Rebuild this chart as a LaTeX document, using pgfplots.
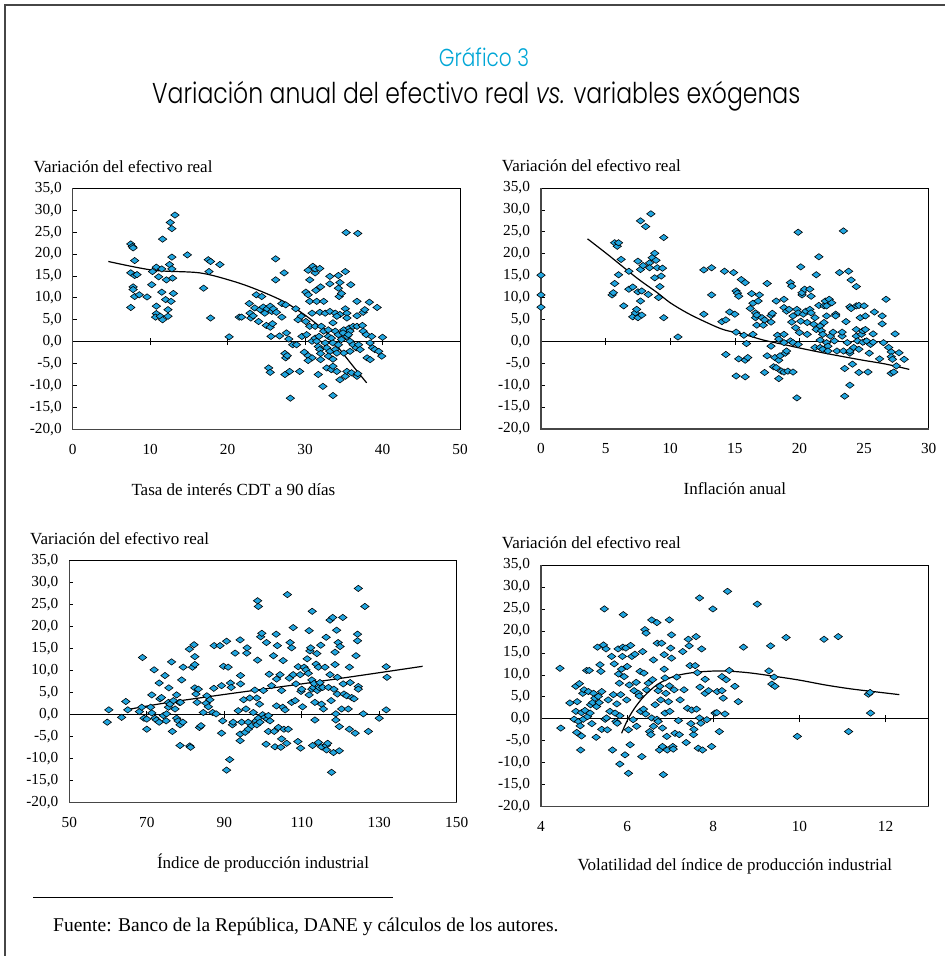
\documentclass[border=0pt]{standalone}
\usepackage{pgfplots}
\pgfplotsset{compat=1.18}
\usepackage{fontspec}
\setmainfont{Liberation Serif}
\newfontfamily\titlefont{Poppins Light}[FakeStretch=0.82]

\definecolor{mk}{RGB}{33,166,224}
\definecolor{ttl}{RGB}{0,166,214}
\definecolor{frm}{RGB}{70,70,70}

\newcommand\tickfont{\fontsize{15.3}{18}\selectfont}
\newcommand\lblfont{\fontsize{17}{20}\selectfont}

\pgfplotsset{
  panel/.style={
    scale only axis,
    clip=false,
    ymin=-20, ymax=35,
    ytick={-20,-15,...,35},
    yticklabels={{-20,0},{-15,0},{-10,0},{-5,0},{0,0},{5,0},{10,0},{15,0},{20,0},{25,0},{30,0},{35,0}},
    ytick pos=left,
    tick align=inside,
    major tick length=4pt,
    ytick style={black, line width=0.7pt},
    xtick style={draw=none},
    axis line style={black, line width=0.8pt},
    ticklabel style={font=\tickfont},
    yticklabel style={xshift=-7.5pt},
    xticklabel style={yshift=-11pt},
    xlabel style={font=\lblfont, at={(axis description cs:0.5,0)}, anchor=center, yshift=-60pt},
  },
  pts/.style={only marks, mark=diamond*, mark size=4.2pt,
    mark options={rotate=90, fill=mk, draw=black, line width=0.6pt}},
  fit/.style={black, line width=1.2pt, smooth, no marks},
}

% zero line with small crossing ticks
\newcommand\zeroline[1]{%
  \draw[black, line width=0.9pt] ({rel axis cs:0,0} |- {axis cs:0,0}) -- ({rel axis cs:1,0} |- {axis cs:0,0});
  \pgfplotsinvokeforeach{#1}{\draw[black, line width=0.7pt] ([yshift=-3.5pt]axis cs:##1,0) -- ([yshift=3.5pt]axis cs:##1,0);}
}
\newcommand\ylab{\node[anchor=west, font=\lblfont, inner sep=0pt] at ([xshift=-39.3pt, yshift=22pt]rel axis cs:0,1) {Variación del efectivo real};}
\newcommand\lowframe{\draw[frm, line width=1.4pt] (rel axis cs:0,1) -- (rel axis cs:0,0) -- (rel axis cs:1,0);}

\begin{document}
\begin{tikzpicture}[x=1pt, y=1pt]
\useasboundingbox (0,0) rectangle (945,956);
% page frame
\draw[frm, line width=1.3pt] (5,0) -- (5,951) -- (945,951);

% headings
\node[anchor=base, text=ttl, font=\titlefont\fontsize{24.5}{28}\selectfont, inner sep=0pt] at (484,889) {Gráfico 3};
\node[anchor=base west, font=\titlefont\fontsize{28.7}{32}\selectfont, inner sep=0pt] at (152,852)
  {Variación anual del efectivo real {\itshape vs.} variables exógenas};

% ---------------- interest rate ----------------
\begin{axis}[panel, at={(72.7pt,526.7pt)}, anchor=south west, width=387.3pt, height=241pt,
  xmin=0, xmax=50, xtick={0,10,...,50}, xticklabels={0,10,20,30,40,50},
  xlabel={Tasa de interés CDT a 90 días}, xlabel style={xshift=-33pt}]
\zeroline{10,20,30,40}
\addplot[pts] table {
7.5 22.3
7.7 21.7
7.8 21.4
8.0 18.5
7.5 15.7
8.0 15.1
8.3 15.3
7.8 12.5
7.8 11.9
8.0 10.3
8.6 10.7
7.5 7.8
9.6 10.2
10.2 13.0
10.3 16.0
10.8 17.0
11.1 14.8
10.8 8.1
10.8 6.4
10.7 5.6
11.3 5.8
11.6 5.0
11.5 11.3
11.6 23.4
12.0 9.6
12.3 7.3
12.3 5.8
12.1 14.1
12.5 17.6
12.6 27.2
12.8 25.8
12.8 19.3
12.8 16.6
12.9 14.5
12.7 9.2
13.0 11.0
13.2 28.9
11.5 16.6
14.8 19.8
16.9 12.2
17.5 18.7
17.8 18.3
17.6 16.0
17.8 5.4
19.0 17.6
20.2 1.1
21.5 5.6
21.8 5.6
22.8 8.7
22.9 6.5
23.0 5.4
23.3 5.9
23.7 10.7
24.4 10.3
24.0 4.6
23.5 7.7
24.2 7.3
24.6 7.9
24.8 6.5
25.1 7.5
25.5 8.1
25.7 6.9
25.9 7.5
25.0 3.7
25.5 3.3
25.8 4.1
25.6 1.2
25.3 -6.0
25.5 -7.0
26.2 18.9
26.2 14.1
26.3 6.7
27.0 5.6
26.7 1.3
27.0 8.7
27.3 15.7
27.5 8.4
27.6 2.0
27.9 0.6
27.4 -2.7
27.5 -3.7
27.7 -3.2
27.4 -7.5
28.0 -6.8
28.1 -12.9
28.4 -0.7
28.9 -0.7
28.8 7.5
29.3 -6.8
29.1 5.0
29.5 5.8
29.6 1.2
30.1 11.3
30.4 10.7
30.4 16.3
30.6 14.1
31.0 17.2
31.3 15.7
31.3 16.6
31.9 16.7
32.0 12.5
31.4 11.7
30.6 9.2
31.5 9.2
32.4 9.2
30.9 6.5
31.9 6.7
32.6 6.5
30.1 4.6
30.6 3.5
31.3 3.5
32.1 3.5
30.2 1.6
30.9 0.1
29.9 -2.4
30.4 -3.2
30.9 -3.7
30.4 -4.3
31.7 -1.1
31.9 -1.8
32.0 -2.7
32.0 -4.1
31.7 -7.5
32.3 -10.2
33.2 14.9
33.2 13.2
34.3 15.1
35.2 16.0
34.5 13.5
34.3 12.2
34.4 10.3
34.7 11.0
35.9 13.0
35.3 24.9
36.8 24.7
33.2 6.9
33.9 6.5
34.5 6.2
35.2 7.5
35.4 6.5
35.4 5.4
33.6 4.3
34.1 5.8
35.0 2.7
35.7 3.1
35.8 2.4
36.2 3.5
36.7 9.2
36.7 5.9
36.7 3.5
37.5 6.7
37.7 7.3
38.3 9.0
39.3 7.8
37.4 3.7
37.5 2.4
37.9 1.6
38.6 1.2
40.0 1.0
38.4 -0.3
38.7 -1.4
39.0 -1.8
39.5 -2.2
39.9 -3.3
38.0 -3.7
38.4 -4.1
33.0 1.2
33.4 0.8
33.6 -0.3
32.6 -0.3
32.8 -1.4
33.2 -2.2
33.9 -1.8
34.3 -0.7
34.7 0.5
35.4 1.2
35.8 0.1
36.2 -0.7
36.6 -1.4
36.9 -0.7
37.1 -1.8
35.8 -2.2
35.0 -2.6
34.1 -2.6
33.0 -3.3
33.6 -4.0
32.8 -6.0
33.4 -6.4
33.6 -5.6
34.1 -6.8
34.5 -8.7
35.2 -7.9
35.4 -6.8
36.0 -7.1
36.7 -7.9
36.8 -7.3
33.6 -12.3
31.3 0.8
31.5 0.1
31.8 1.2
32.4 2.4
33.0 2.7
33.9 2.4
34.3 1.6
34.9 2.0
35.6 1.6
};
\addplot[fit] coordinates {(4.6,18.3) (10.4,16.3) (16.4,15.7) (20.7,13.8) (23.75,11.9) (27.2,9.2) (30.2,5.8) (32.8,2.0) (34.5,-1.8) (36.2,-5.6) (37.95,-9.4)};
\lowframe
\ylab
\end{axis}

% ---------------- inflation ----------------
\begin{axis}[panel, at={(541pt,527pt)}, anchor=south west, width=387.7pt, height=241pt,
  xmin=0, xmax=30, xtick={0,5,...,30}, xticklabels={0,5,10,15,20,25,30},
  xlabel={Inflación anual}]
\zeroline{5,10,15,20,25}
\addplot[pts] table {
0 15.1
0 10.6
0 7.8
5.5 10.6
5.6 11.1
5.7 22.5
5.9 21.7
6.0 22.5
5.7 13.2
6.0 15.2
6.2 18.7
6.4 8.1
6.8 11.9
7.1 12.4
6.8 16.0
7.1 5.6
7.3 6.5
7.5 5.4
7.8 6.0
7.4 7.3
7.7 9.2
7.5 11.3
7.8 11.5
7.5 18.3
7.7 16.4
7.7 27.5
8.1 26.2
7.9 17.3
8.3 10.7
8.4 17.9
8.5 29.1
8.4 16.8
8.6 19.1
8.8 20.1
8.9 18.5
9.0 16.8
8.8 14.5
9.2 12.5
9.3 14.9
9.4 16.7
9.1 10.0
9.5 5.4
9.5 23.7
10.6 1.0
12.6 6.2
12.6 16.3
13.2 16.8
13.2 10.6
14.2 16.0
14.3 -3.0
14.0 4.5
14.3 4.9
14.6 6.7
15.0 6.2
14.9 15.7
15.1 11.5
15.2 11.0
15.3 10.3
15.1 2.1
15.1 -7.9
15.3 -4.0
15.5 14.1
15.8 13.4
15.7 1.4
15.8 -8.1
15.9 -0.5
15.8 -4.3
16.0 -3.7
16.2 7.5
16.3 10.9
16.4 8.7
16.4 1.6
16.6 5.4
16.6 6.5
16.7 6.0
16.7 3.7
16.8 9.2
16.9 10.6
17.1 5.4
17.2 3.7
17.3 4.9
17.3 -7.1
17.5 -3.3
17.5 13.2
17.8 5.9
17.9 6.4
17.8 4.4
17.8 -1.1
18.0 -5.8
18.1 -3.7
18.2 -6.0
18.3 1.4
18.4 -8.5
18.4 -4.3
18.5 -3.3
18.2 9.2
18.4 0.5
18.8 9.6
18.8 7.7
18.8 1.6
18.8 -0.3
18.9 -2.7
19.0 -2.2
18.6 -6.8
18.8 -7.0
19.1 -6.8
19.3 13.4
19.4 12.6
19.0 6.9
19.2 7.3
19.4 4.4
19.5 5.8
19.3 0.1
19.5 -0.3
19.5 -7.0
19.7 3.1
19.8 7.3
19.9 6.5
19.9 24.9
19.8 -12.9
19.9 -0.7
20.0 2.0
20.1 4.6
20.1 17.0
20.2 10.6
20.2 11.1
20.3 6.2
20.4 11.9
20.5 6.9
20.6 4.3
20.6 1.6
20.8 11.9
20.9 10.3
20.8 7.3
20.9 6.5
21.1 3.9
21.2 5.4
21.3 15.2
21.2 -1.4
21.3 2.7
21.5 8.2
21.5 19.3
21.6 3.5
21.6 -1.4
21.6 0.3
21.7 2.4
21.8 -1.8
21.8 1.6
21.9 4.3
21.9 8.1
22.0 9.2
22.1 8.1
22.1 -0.3
22.1 5.8
22.2 -1.1
22.2 -2.2
22.3 9.6
22.4 1.2
22.5 8.8
22.6 2.1
22.7 0.1
22.8 6.2
22.8 5.8
22.9 -2.2
23.1 15.7
23.3 1.2
23.4 25.2
23.3 2.1
23.4 -2.2
23.5 -6.2
23.5 -12.5
23.6 4.5
23.7 -0.3
23.8 16.0
23.9 -2.7
23.9 -2.2
23.9 7.9
24.0 14.0
24.0 7.5
24.1 -5.2
24.2 -1.4
23.9 -10.0
24.4 12.5
24.4 8.1
24.4 2.7
24.4 1.2
24.5 0.1
24.6 8.2
24.6 -1.8
24.6 -7.1
24.7 5.4
24.8 1.6
24.9 2.4
24.9 -0.2
25.0 8.1
25.1 5.8
25.1 2.7
25.2 0.1
25.3 -7.0
25.4 -2.7
25.5 -0.7
25.7 1.7
25.8 6.7
25.7 -0.2
26.2 -4.0
26.4 5.8
26.4 4.0
26.5 -0.3
26.7 9.6
26.9 -1.4
27.1 -2.4
27.1 -3.5
27.2 -4.1
27.1 -7.3
27.3 -7.0
27.4 1.7
27.5 -5.6
27.7 -2.6
28.1 -4.1
};
\addplot[fit] coordinates {(3.6,23.4) (5.3,19.5) (7.4,14.5) (9.0,11.1) (10.0,8.8) (11.3,6.5) (12.6,4.6) (14.1,2.7) (15.7,1.6) (17.2,0.3) (18.75,-0.7) (20.3,-1.7) (21.8,-2.6) (23.4,-3.5) (24.9,-4.3) (26.7,-5.2) (28.5,-6.4)};
\lowframe
\ylab
\end{axis}

% ---------------- industrial production ----------------
\begin{axis}[panel, at={(69.3pt,153.3pt)}, anchor=south west, width=387.4pt, height=242pt,
  xmin=50, xmax=150, xtick={50,70,...,150}, xticklabels={50,70,90,110,130,150},
  xlabel={Índice de producción industrial}]
\zeroline{70,90,110,130}
\addplot[pts] table {
59.8 -1.7
60.2 1.1
63.5 -0.6
64.6 3.0
65.1 1.1
68.1 0.7
68.7 1.7
68.9 13.0
69.3 -0.8
70.0 -3.3
70.0 -1.0
71.0 1.7
71.3 4.5
71.3 0.4
71.9 10.2
72.1 -0.8
72.5 -1.2
73.2 -1.7
73.2 7.2
73.4 3.6
73.8 3.9
74.3 -0.2
74.7 8.9
75.0 -1.4
75.1 0.2
75.6 1.7
75.6 2.8
75.7 6.1
76.0 2.4
76.4 12.0
76.6 -3.8
76.9 3.2
77.3 1.3
77.7 4.5
77.7 -0.8
78.1 -1.4
78.4 2.8
78.6 -2.3
78.6 -7.0
78.7 2.8
79.0 7.9
79.3 -1.7
79.4 10.8
81.0 14.9
81.1 -7.1
81.3 -7.4
81.8 10.8
82.2 15.9
82.4 13.2
82.4 11.4
82.4 6.1
82.7 4.7
83.0 2.8
83.3 5.8
83.6 -2.9
84.0 -2.5
84.6 0.5
85.3 2.6
85.5 4.3
85.9 1.8
86.3 3.4
87.0 0.5
87.3 6.0
87.4 15.7
87.9 0.2
88.9 15.7
89.3 6.6
89.6 -1.4
89.3 -4.2
89.8 11.0
90.6 16.7
90.6 -12.6
91.0 10.8
91.4 -10.2
91.6 7.2
91.8 6.2
92.1 -2.3
92.3 -1.7
92.8 14.0
93.6 0.9
94.1 17.0
94.1 -5.9
94.2 8.9
94.2 7.0
94.1 -4.4
94.5 -1.7
95.0 3.4
95.4 -4.0
95.6 1.3
95.8 14.0
95.9 15.2
96.2 -1.7
96.2 -3.3
96.6 3.8
97.1 -2.5
97.5 0.5
97.9 5.6
98.2 -1.4
98.4 -2.3
98.4 3.8
98.6 12.4
98.6 25.9
98.8 24.6
98.8 -0.8
99.1 2.4
99.2 -1.7
99.4 17.7
99.7 18.5
99.9 0.0
100.1 5.5
100.5 -0.6
100.8 -6.7
100.9 16.4
101.1 -1.0
101.4 -0.2
101.6 9.2
101.4 -3.8
101.8 -1.4
102.2 6.6
102.7 13.4
102.9 -3.8
103.1 -7.3
103.4 18.3
103.5 8.1
103.5 2.0
103.7 15.7
104.0 -2.9
104.4 9.1
104.6 -7.4
104.8 5.5
104.8 -5.5
105.1 1.7
105.2 12.3
105.4 -3.3
105.7 1.1
106.1 -6.5
106.3 27.3
106.5 -3.3
106.8 8.3
107.0 16.4
107.4 15.2
107.4 2.8
107.8 19.8
107.8 9.1
108.3 3.2
108.5 7.0
109.0 -6.1
109.1 10.9
109.6 9.1
109.7 -7.6
109.8 5.3
110.0 5.8
110.2 1.8
110.6 10.8
111.1 10.2
111.4 12.7
111.7 9.4
111.9 4.5
111.9 19.1
112.1 14.5
112.3 15.2
112.6 7.9
112.6 5.8
112.7 23.5
112.8 -7.0
113.0 6.2
113.2 7.1
113.4 -1.2
113.4 2.8
113.7 11.5
113.9 13.9
114.0 5.5
114.3 -6.3
114.3 10.8
114.5 6.2
114.7 7.3
114.9 15.8
115.1 -7.3
115.1 2.4
115.4 6.2
115.6 1.3
116.0 10.8
116.3 17.6
116.3 -7.0
116.4 -8.0
116.7 -6.5
116.9 6.2
117.3 9.1
117.3 21.5
117.6 3.2
117.7 -13.1
118.0 22.1
118.2 -8.6
118.3 5.8
118.6 14.2
118.6 11.4
118.8 0.2
118.8 -1.2
119.0 19.2
119.2 8.5
119.2 4.7
119.4 16.4
119.7 -8.2
119.7 -2.7
119.9 15.5
120.3 1.3
120.6 22.1
120.7 7.0
120.9 4.7
121.6 4.3
122.0 1.3
122.3 10.8
122.3 -3.3
122.5 7.3
122.9 3.9
123.5 3.6
123.8 -4.2
124.0 13.4
124.4 18.3
124.4 16.8
124.6 6.4
124.6 28.7
124.6 5.8
125.9 0.2
126.3 24.6
127.2 -3.8
130.0 -0.8
131.8 10.9
132.0 8.5
131.8 1.1
};
\addplot[fit] coordinates {(64.6,1.1) (75,2.7) (90,4.6) (110,7.0) (125,8.9) (141.2,11.0)};
\lowframe
\ylab
\end{axis}

% ---------------- volatility ----------------
\begin{axis}[panel, at={(541pt,149.3pt)}, anchor=south west, width=387.7pt, height=241.7pt,
  xmin=4, xmax=13, xtick={4,6,...,12}, xticklabels={4,6,8,10,12},
  xlabel={Volatilidad del índice de producción industrial}]
\zeroline{6,8,10,12}
\addplot[pts] table {
4.44 11.5
4.46 -2.1
4.67 3.6
4.77 -0.1
4.81 7.4
4.84 3.9
4.81 1.7
4.83 -3.1
4.87 -0.6
4.89 8.0
4.91 -1.6
4.92 -7.1
4.94 -3.9
4.94 1.4
4.97 5.8
4.98 -0.1
5.00 6.6
5.02 1.9
5.06 11.0
5.08 0.5
5.10 6.2
5.12 11.0
5.14 1.3
5.15 3.2
5.18 -1.1
5.20 3.7
5.22 5.8
5.25 4.7
5.28 -4.2
5.29 2.8
5.31 16.3
5.33 5.1
5.35 3.7
5.37 12.3
5.39 10.8
5.41 -2.4
5.41 6.2
5.45 16.8
5.47 25.0
5.49 -0.1
5.51 15.9
5.52 0.2
5.54 -2.5
5.56 4.3
5.60 1.7
5.64 14.2
5.66 -7.1
5.68 5.5
5.70 12.5
5.72 1.3
5.74 -0.6
5.76 3.4
5.77 -1.0
5.79 15.9
5.80 10.2
5.82 8.1
5.83 -10.3
5.83 0.7
5.85 5.5
5.87 11.3
5.89 14.2
5.90 16.3
5.91 23.7
5.93 9.6
5.95 -8.2
5.97 16.1
5.99 4.3
6.00 11.9
6.03 -12.4
6.03 -2.5
6.05 7.7
6.07 -5.9
6.08 16.7
6.11 14.2
6.14 -0.2
6.16 6.4
6.18 14.7
6.21 8.3
6.22 -1.7
6.26 5.8
6.28 5.2
6.30 10.8
6.31 1.7
6.34 -8.6
6.36 15.3
6.38 2.2
6.39 10.4
6.41 20.3
6.43 1.1
6.44 19.5
6.45 6.6
6.49 8.1
6.52 -2.9
6.55 -3.6
6.57 22.5
6.57 0.2
6.59 8.9
6.61 13.4
6.61 -1.7
6.65 3.2
6.69 21.9
6.69 -0.1
6.70 17.2
6.72 -0.6
6.72 6.4
6.75 -7.1
6.76 7.4
6.78 4.3
6.80 17.2
6.82 -2.1
6.82 -6.3
6.84 -12.7
6.86 11.3
6.86 14.6
6.88 9.3
6.88 1.3
6.90 5.8
6.92 -4.0
6.93 -7.1
6.96 3.9
6.98 7.5
6.98 22.5
6.99 1.7
7.01 16.1
7.03 13.8
7.03 19.1
7.06 -6.3
7.07 -6.9
7.09 6.6
7.11 -3.3
7.15 9.5
7.19 -0.4
7.21 -3.6
7.23 4.3
7.29 15.3
7.32 6.6
7.37 -5.4
7.40 2.4
7.42 18.1
7.44 16.6
7.46 12.1
7.48 -1.1
7.50 2.0
7.54 -3.6
7.55 -2.4
7.58 12.1
7.60 18.7
7.61 2.2
7.63 10.5
7.65 -6.7
7.68 0.2
7.68 27.5
7.69 7.2
7.71 -1.0
7.73 15.9
7.75 -7.1
7.81 9.0
7.81 5.8
7.85 -0.2
7.89 6.4
7.96 -6.3
7.99 25.0
8.04 1.3
8.08 1.4
8.09 6.2
8.14 -2.9
8.20 6.4
8.20 9.6
8.23 4.7
8.27 1.1
8.30 8.9
8.33 29.0
8.37 11.0
8.50 7.4
8.58 3.9
8.70 16.3
9.02 26.1
9.29 10.9
9.33 16.6
9.36 7.9
9.41 9.5
9.43 7.4
9.69 18.5
9.95 -4.0
10.57 18.1
10.90 18.7
11.14 -2.9
11.60 5.6
11.64 6.0
11.65 1.3
};
\addplot[fit] coordinates {(5.87,-3.3) (5.95,-1.5) (6.05,0.5) (6.2,2.8) (6.4,5.2) (6.7,7.8) (7.1,9.7) (7.6,10.6) (8.2,10.9) (8.8,10.5) (9.4,9.7) (10.0,8.8) (10.6,7.7) (11.2,6.8) (11.8,6.1) (12.32,5.5)};
\lowframe
\ylab
\end{axis}

% source note
\draw[black, line width=1.2pt] (33,58.3) -- (393,58.3);
\node[anchor=west, font=\fontsize{19.5}{22}\selectfont, inner sep=0pt] at (53,29.3) {Fuente: Banco de la República, DANE y cálculos de los autores.};
\end{tikzpicture}
\end{document}
